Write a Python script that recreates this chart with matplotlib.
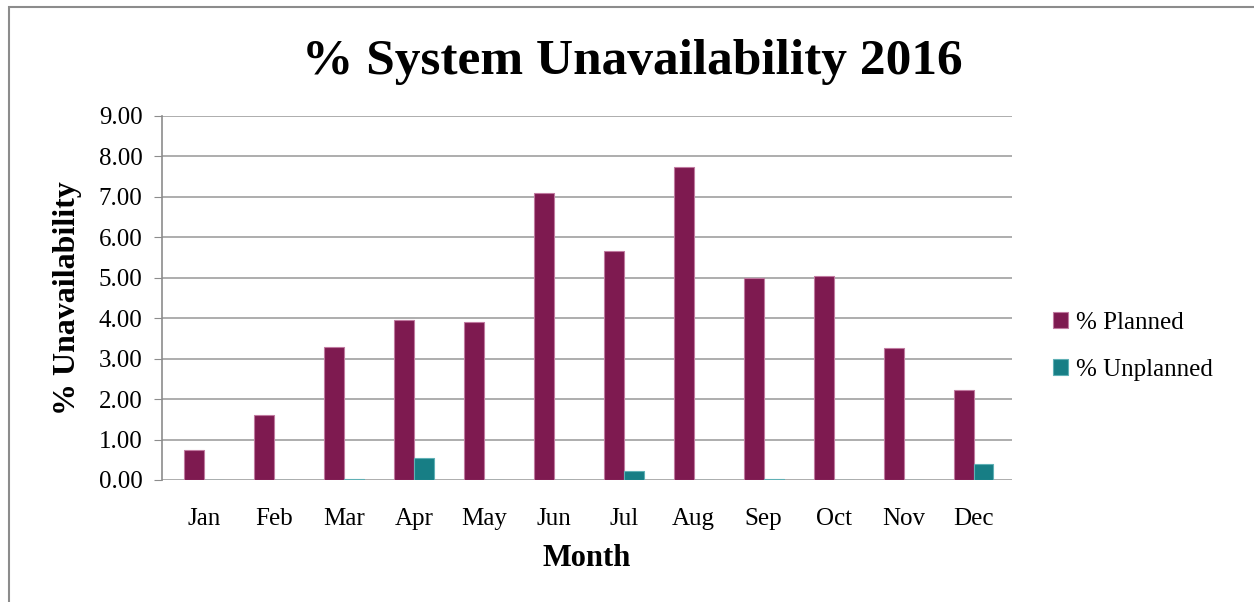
import matplotlib.pyplot as plt
import numpy as np
from matplotlib.patches import Rectangle

months = ["Jan", "Feb", "Mar", "Apr", "May", "Jun", "Jul", "Aug", "Sep", "Oct", "Nov", "Dec"]
planned = [0.75, 1.60, 3.30, 3.95, 3.90, 7.10, 5.65, 7.75, 5.00, 5.05, 3.27, 2.23]
unplanned = [0.00, 0.01, 0.02, 0.55, 0.01, 0.00, 0.22, 0.00, 0.03, 0.01, 0.00, 0.40]
yticks = [0, 1, 2, 3, 4, 5, 6, 7, 8, 9]

plt.rcParams['font.family'] = ['Liberation Serif', 'DejaVu Serif']

fig = plt.figure(figsize=(12.54, 6.02), dpi=100)
ax = fig.add_axes([162 / 1254, 1 - 480 / 602, 850 / 1254, 364 / 602])

# outer chart frame (open at right and bottom edges of the image)
fig.patches.append(Rectangle((9 / 1254, -0.01), 1.1, 1.01 - 7 / 602, transform=fig.transFigure,
                             fill=False, edgecolor="#8c8c8c", linewidth=1.5))

x = np.arange(len(months))
w = 0.285
ax.bar(x - w / 2, planned, w, color="#7e1a50", edgecolor="#c07aa0", linewidth=0.8,
       label="% Planned", zorder=3)
ax.bar(x + w / 2, unplanned, w, color="#177e85", edgecolor="#5fb0b5", linewidth=0.8,
       label="% Unplanned", zorder=3)

ax.set_xlim(-0.6, 11.55)
ax.set_ylim(0, 9)
ax.set_yticks(yticks)
ax.set_yticklabels([f"{v:.2f}" for v in yticks], fontsize=18)
ax.set_xticks(x)
ax.set_xticklabels(months, fontsize=18)
ax.tick_params(axis="x", length=0, pad=20)
ax.tick_params(axis="y", length=6, color="#8c8c8c", pad=8)
ax.grid(axis="y", color="#a0a0a0", linewidth=1.2, zorder=0)
for s in ["top", "right", "bottom"]:
    ax.spines[s].set_visible(False)
ax.spines["left"].set_color("#8c8c8c")
ax.spines["left"].set_linewidth(1.2)

ax.set_xlabel("Month", fontsize=22, fontweight="bold", labelpad=10)
ax.set_ylabel("% Unavailability", fontsize=23, fontweight="bold", labelpad=12)
fig.text(632 / 1254, 1 - 62 / 602, "% System Unavailability 2016", fontsize=37,
         fontweight="bold", ha="center", va="center")

ax.legend(loc="center left", bbox_to_anchor=(1.022, 0.367), frameon=False, fontsize=18,
          handlelength=0.6, handleheight=0.6, handletextpad=0.3, labelspacing=1.0)

fig.savefig("out.png", dpi=100)
